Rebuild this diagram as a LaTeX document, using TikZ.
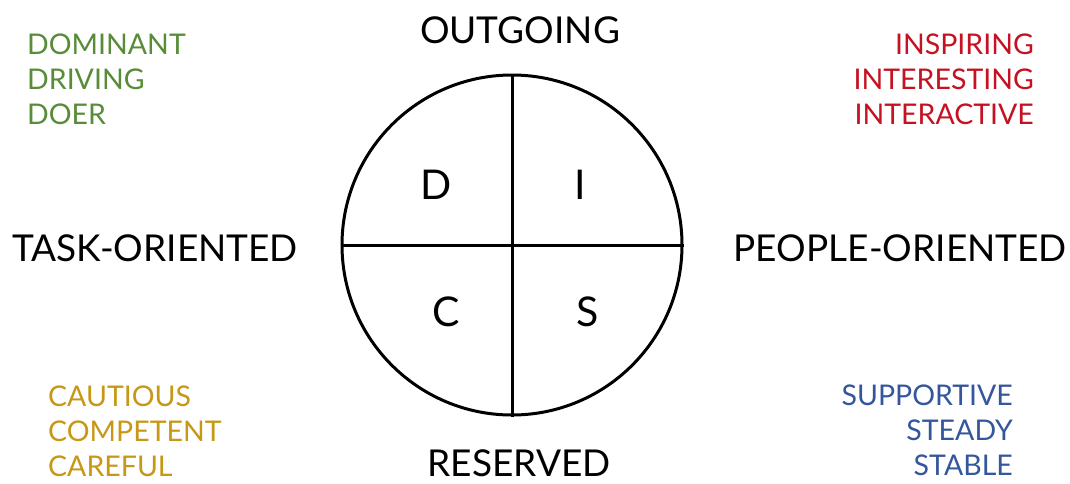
\documentclass[tikz,border=0pt]{standalone}
\usepackage{fontspec}
\setmainfont{Lato}
\usetikzlibrary{positioning}
\definecolor{discgreen}{RGB}{88,140,56}
\definecolor{discred}{RGB}{196,18,34}
\definecolor{discgold}{RGB}{198,152,22}
\definecolor{discblue}{RGB}{52,86,156}
\tikzset{
    axis/.style={
        font=\fontsize{37}{40}\selectfont,text=black,inner sep=0pt
    },
    trait/.style={
        font=\fontsize{28.5}{35}\selectfont,text=#1,inner sep=0pt
    },
    trait/.default=black,
    letter/.style={
        font=\fontsize{41}{44}\selectfont,inner sep=0pt
    }
}
\begin{document}
\begin{tikzpicture}[x=1pt,y=-1pt]
\useasboundingbox (0,0) rectangle (1070,483);

\node[draw,line width=3pt,circle,minimum size=340pt,inner sep=0pt]
(disc) at (512,245) {};
\draw[line width=3pt] (disc.north) -- (disc.south);
\draw[line width=3pt] (disc.west) -- (disc.east);

\node[letter] (d) at (436,185) {D};
\node[letter] (i) at (580,185) {I};
\node[letter] (c) at (446,312) {C};
\node[letter] (s) at (588,312) {S};

\node[axis] (out) at (520,30) {OUTGOING};
\node[axis] (res) at (519,463) {RESERVED};
\node[axis,anchor=west] (task) at (12,248) {TASK-ORIENTED};
\node[axis,anchor=east] (people) at (1067,248) {PEOPLE-ORIENTED};

\node[trait=discgreen,align=left,anchor=north west] (dom) at (27,34)
{DOMINANT\\DRIVING\\DOER};
\node[trait=discred,align=right,anchor=north east] (insp) at (1034,34)
{INSPIRING\\INTERESTING\\INTERACTIVE};
\node[trait=discgold,align=left,anchor=south west] (caut) at (48,477)
{CAUTIOUS\\COMPETENT\\CAREFUL};
\node[trait=discblue,align=right,anchor=south east] (supp) at (1013,476)
{SUPPORTIVE\\STEADY\\STABLE};

\end{tikzpicture}
\end{document}
